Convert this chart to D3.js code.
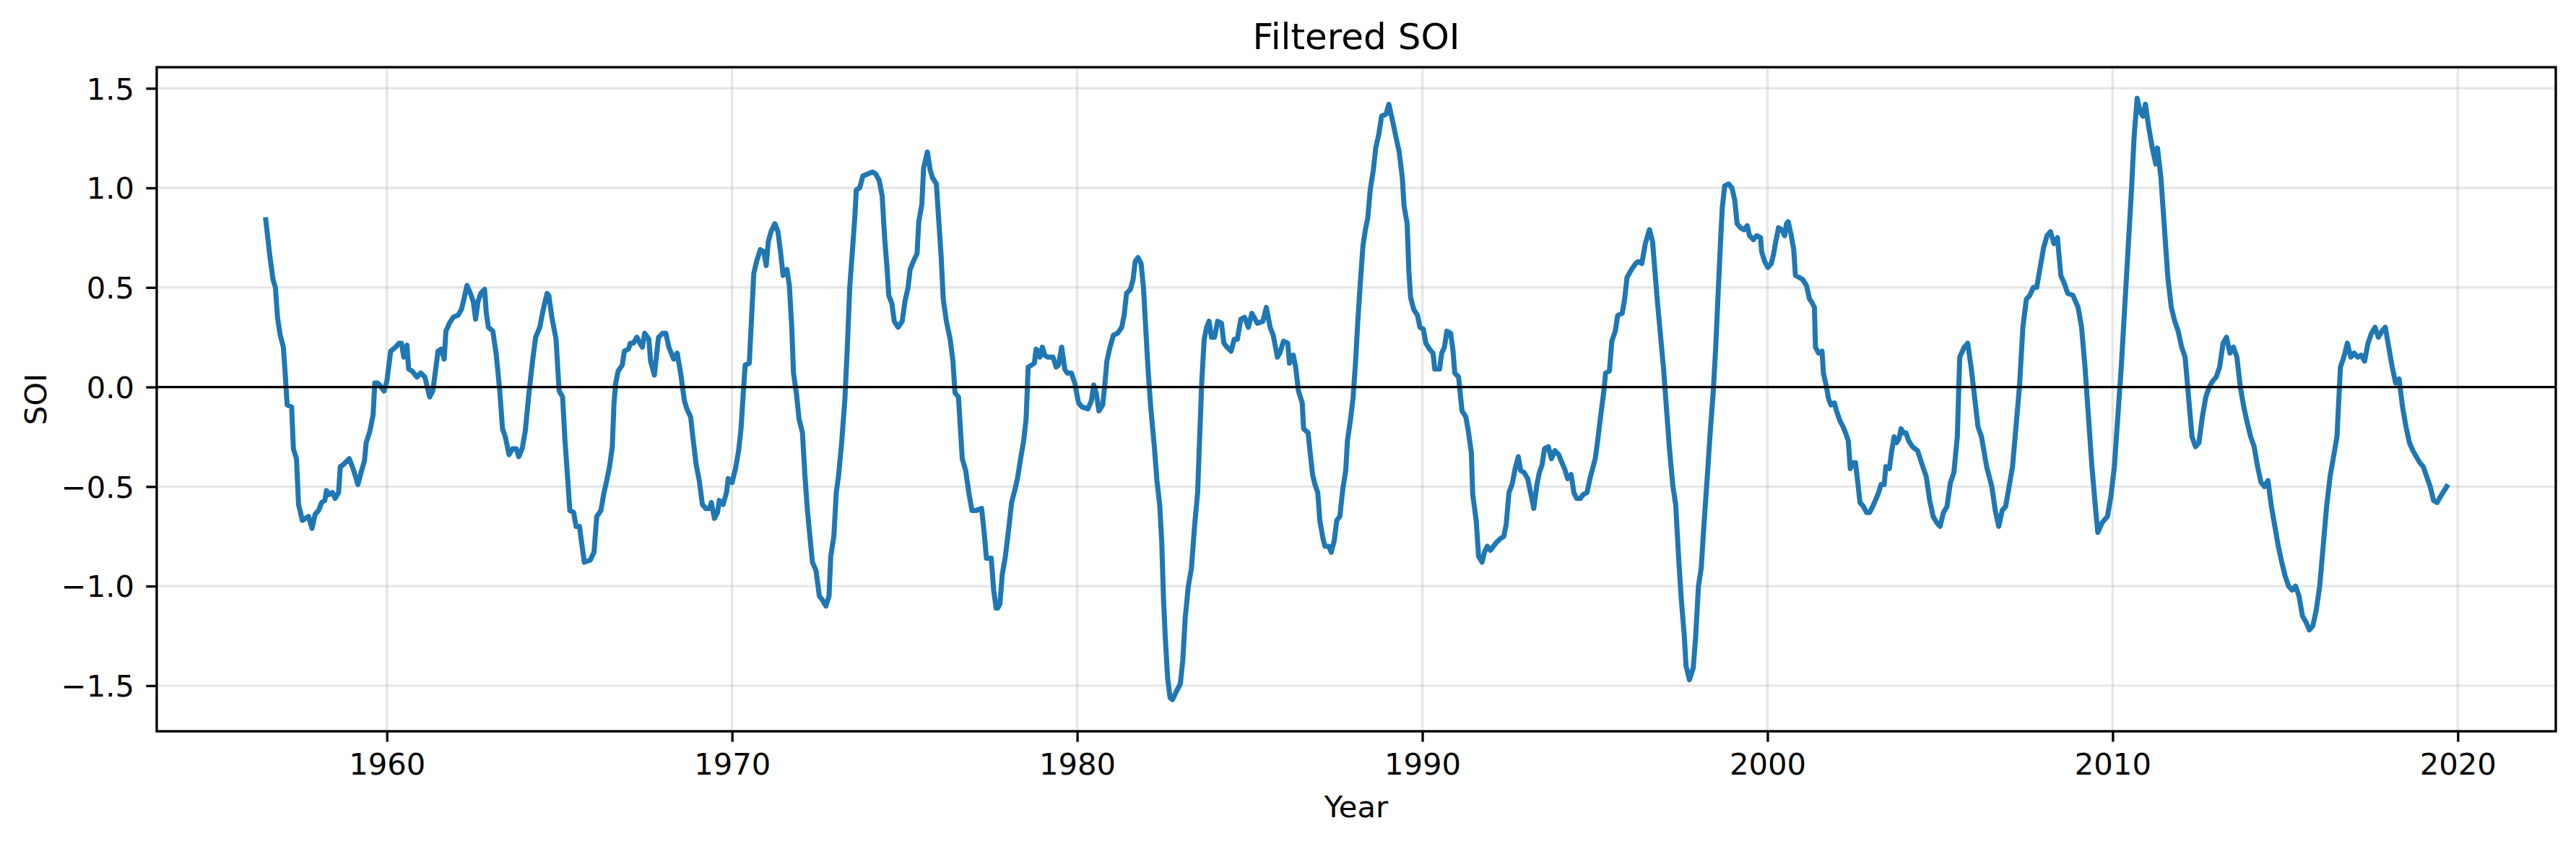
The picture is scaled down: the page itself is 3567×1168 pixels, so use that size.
<!DOCTYPE html>
<meta charset="utf-8">
<style>
  body { margin: 0; background: #fff; }
  text { font-family: "DejaVu Sans", sans-serif; }
</style>
<body>
<script src="https://d3js.org/d3.v7.min.js"></script>
<script>
// values (decimal year, filtered SOI)
var years = [
  1956.49,1956.60,1956.70,1956.77,1956.83,1956.91,1957.00,1957.06,1957.11,1957.24,1957.29,1957.38,1957.44,1957.55,1957.73,1957.83,1957.92,
  1958.02,1958.11,1958.20,1958.25,1958.32,1958.42,1958.50,1958.60,1958.65,1958.74,1958.85,1958.91,1959.02,1959.16,1959.25,1959.35,1959.40,
  1959.51,1959.60,1959.65,1959.72,1959.79,1959.92,1960.00,1960.11,1960.25,1960.35,1960.42,1960.49,1960.58,1960.63,1960.73,1960.87,1960.98,
  1961.10,1961.24,1961.33,1961.43,1961.48,1961.57,1961.66,1961.71,1961.81,1961.92,1962.06,1962.16,1962.23,1962.32,1962.42,1962.50,1962.57,
  1962.64,1962.72,1962.83,1962.88,1962.94,1963.07,1963.17,1963.27,1963.35,1963.43,1963.54,1963.64,1963.75,1963.82,1963.92,1964.01,1964.11,
  1964.22,1964.31,1964.43,1964.53,1964.64,1964.69,1964.78,1964.90,1964.99,1965.09,1965.16,1965.23,1965.30,1965.41,1965.48,1965.58,1965.64,
  1965.72,1965.89,1966.00,1966.08,1966.20,1966.28,1966.37,1966.46,1966.53,1966.58,1966.63,1966.70,1966.82,1966.88,1967.00,1967.05,1967.14,
  1967.24,1967.33,1967.40,1967.47,1967.59,1967.64,1967.75,1967.87,1967.99,1968.08,1968.17,1968.31,1968.41,1968.51,1968.62,1968.69,1968.80,
  1968.87,1968.96,1969.05,1969.14,1969.24,1969.35,1969.40,1969.49,1969.58,1969.63,1969.74,1969.84,1969.89,1970.00,1970.10,1970.19,1970.26,
  1970.33,1970.38,1970.50,1970.56,1970.63,1970.71,1970.82,1970.92,1970.99,1971.05,1971.13,1971.24,1971.33,1971.41,1971.48,1971.59,1971.66,
  1971.73,1971.78,1971.87,1971.94,1972.04,1972.11,1972.18,1972.25,1972.33,1972.43,1972.53,1972.62,1972.72,1972.81,1972.86,1972.95,1973.02,
  1973.09,1973.18,1973.27,1973.34,1973.41,1973.49,1973.56,1973.60,1973.70,1973.79,1973.93,1974.07,1974.16,1974.26,1974.35,1974.42,1974.49,
  1974.54,1974.63,1974.70,1974.81,1974.93,1975.01,1975.10,1975.16,1975.25,1975.36,1975.41,1975.50,1975.55,1975.66,1975.74,1975.81,1975.92,
  1975.98,1976.06,1976.12,1976.21,1976.32,1976.40,1976.46,1976.56,1976.67,1976.77,1976.86,1976.95,1977.07,1977.23,1977.31,1977.37,1977.51,
  1977.58,1977.65,1977.70,1977.76,1977.83,1977.92,1978.01,1978.10,1978.19,1978.27,1978.36,1978.45,1978.52,1978.58,1978.68,1978.76,1978.81,
  1978.87,1978.92,1978.99,1979.06,1979.15,1979.30,1979.39,1979.46,1979.55,1979.64,1979.71,1979.83,1979.93,1980.04,1980.14,1980.31,1980.41,
  1980.48,1980.55,1980.63,1980.74,1980.81,1980.86,1980.95,1981.05,1981.17,1981.29,1981.36,1981.43,1981.54,1981.62,1981.68,1981.76,1981.85,
  1981.92,1981.99,1982.06,1982.13,1982.24,1982.31,1982.39,1982.45,1982.50,1982.55,1982.62,1982.69,1982.76,1982.87,1982.99,1983.06,1983.13,
  1983.22,1983.31,1983.40,1983.49,1983.54,1983.61,1983.68,1983.75,1983.82,1983.89,1983.98,1984.07,1984.18,1984.25,1984.34,1984.46,1984.55,
  1984.64,1984.74,1984.85,1984.96,1985.06,1985.22,1985.38,1985.48,1985.59,1985.68,1985.80,1985.87,1985.98,1986.10,1986.15,1986.26,1986.33,
  1986.41,1986.52,1986.56,1986.69,1986.75,1986.82,1986.89,1986.97,1987.03,1987.12,1987.18,1987.29,1987.36,1987.45,1987.52,1987.61,1987.69,
  1987.78,1987.83,1987.92,1987.99,1988.06,1988.13,1988.21,1988.28,1988.35,1988.42,1988.49,1988.58,1988.65,1988.74,1988.82,1988.95,1989.03,
  1989.12,1989.23,1989.33,1989.42,1989.47,1989.56,1989.61,1989.66,1989.75,1989.86,1989.93,1990.03,1990.10,1990.21,1990.31,1990.36,1990.50,
  1990.56,1990.64,1990.71,1990.82,1990.89,1990.94,1991.05,1991.15,1991.26,1991.34,1991.42,1991.46,1991.56,1991.63,1991.73,1991.80,1991.88,
  1991.97,1992.06,1992.15,1992.27,1992.36,1992.43,1992.51,1992.60,1992.69,1992.78,1992.85,1992.95,1993.05,1993.16,1993.23,1993.32,1993.39,
  1993.47,1993.54,1993.65,1993.74,1993.84,1993.95,1994.02,1994.12,1994.21,1994.31,1994.39,1994.47,1994.58,1994.66,1994.77,1994.87,1995.01,
  1995.08,1995.17,1995.26,1995.31,1995.42,1995.49,1995.59,1995.66,1995.79,1995.86,1995.93,1996.06,1996.18,1996.25,1996.36,1996.46,1996.58,
  1996.67,1996.74,1996.81,1996.90,1996.99,1997.07,1997.16,1997.26,1997.34,1997.43,1997.50,1997.59,1997.64,1997.74,1997.85,1997.92,1998.00,
  1998.08,1998.16,1998.26,1998.34,1998.43,1998.50,1998.57,1998.64,1998.69,1998.76,1998.87,1998.97,1999.05,1999.12,1999.22,1999.32,1999.41,
  1999.48,1999.59,1999.69,1999.80,1999.83,1999.92,2000.01,2000.11,2000.18,2000.24,2000.32,2000.41,2000.50,2000.55,2000.60,2000.69,2000.76,
  2000.81,2000.92,2001.02,2001.13,2001.22,2001.27,2001.36,2001.39,2001.48,2001.58,2001.62,2001.71,2001.77,2001.84,2001.94,2002.00,2002.10,
  2002.19,2002.26,2002.34,2002.40,2002.48,2002.55,2002.61,2002.68,2002.78,2002.87,2002.96,2003.05,2003.15,2003.22,2003.29,2003.38,2003.43,
  2003.53,2003.60,2003.67,2003.74,2003.81,2003.87,2003.94,2004.01,2004.09,2004.20,2004.35,2004.50,2004.60,2004.70,2004.80,2004.90,2005.00,
  2005.10,2005.20,2005.30,2005.40,2005.50,2005.57,2005.70,2005.80,2005.90,2006.00,2006.10,2006.20,2006.35,2006.50,2006.60,2006.70,2006.80,
  2006.90,2007.00,2007.10,2007.20,2007.30,2007.40,2007.50,2007.60,2007.70,2007.80,2007.90,2008.00,2008.10,2008.20,2008.30,2008.40,2008.50,
  2008.60,2008.70,2008.85,2009.00,2009.10,2009.20,2009.30,2009.40,2009.50,2009.57,2009.70,2009.85,2009.95,2010.05,2010.15,2010.25,2010.35,
  2010.45,2010.55,2010.62,2010.71,2010.80,2010.88,2010.95,2011.05,2011.15,2011.25,2011.30,2011.40,2011.50,2011.60,2011.70,2011.80,2011.90,
  2012.00,2012.10,2012.20,2012.30,2012.40,2012.50,2012.60,2012.70,2012.80,2012.90,2013.00,2013.10,2013.20,2013.30,2013.40,2013.50,2013.60,
  2013.70,2013.80,2013.90,2014.00,2014.10,2014.20,2014.30,2014.40,2014.50,2014.60,2014.70,2014.80,2014.90,2015.00,2015.10,2015.20,2015.30,
  2015.40,2015.50,2015.60,2015.70,2015.80,2015.90,2016.00,2016.10,2016.20,2016.30,2016.40,2016.50,2016.60,2016.70,2016.80,2016.90,2017.00,
  2017.10,2017.20,2017.30,2017.40,2017.50,2017.60,2017.70,2017.80,2017.90,2018.00,2018.10,2018.20,2018.30,2018.40,2018.50,2018.60,2018.70,
  2018.80,2018.90,2019.00,2019.10,2019.20,2019.30,2019.40,2019.50,2019.68
];
var soi = [
  0.84,0.67,0.54,0.50,0.35,0.26,0.20,0.05,-0.09,-0.10,-0.31,-0.36,-0.59,-0.67,-0.65,-0.71,-0.64,
  -0.62,-0.58,-0.57,-0.52,-0.54,-0.53,-0.56,-0.53,-0.40,-0.39,-0.37,-0.36,-0.41,-0.49,-0.43,-0.37,-0.28,
  -0.22,-0.14,0.02,0.02,0.01,-0.02,0.03,0.18,0.20,0.22,0.22,0.15,0.21,0.09,0.08,0.05,0.07,
  0.05,-0.05,-0.02,0.11,0.18,0.19,0.14,0.28,0.32,0.35,0.36,0.39,0.44,0.51,0.47,0.43,0.34,
  0.43,0.47,0.49,0.37,0.30,0.28,0.16,-0.02,-0.21,-0.25,-0.34,-0.31,-0.31,-0.35,-0.31,-0.22,-0.04,
  0.13,0.25,0.30,0.39,0.47,0.46,0.35,0.24,-0.02,-0.05,-0.27,-0.44,-0.62,-0.63,-0.70,-0.70,-0.78,
  -0.88,-0.87,-0.83,-0.65,-0.62,-0.54,-0.47,-0.39,-0.30,-0.08,0.02,0.08,0.11,0.18,0.19,0.22,0.22,
  0.25,0.22,0.20,0.27,0.24,0.13,0.06,0.25,0.27,0.27,0.20,0.14,0.17,0.07,-0.07,-0.11,-0.15,
  -0.26,-0.39,-0.47,-0.59,-0.61,-0.61,-0.58,-0.66,-0.63,-0.57,-0.59,-0.53,-0.46,-0.48,-0.41,-0.32,-0.21,
  -0.02,0.11,0.12,0.33,0.57,0.63,0.69,0.68,0.61,0.73,0.78,0.82,0.78,0.67,0.56,0.59,0.51,
  0.30,0.07,-0.04,-0.16,-0.23,-0.44,-0.61,-0.74,-0.88,-0.92,-1.05,-1.07,-1.10,-1.05,-0.85,-0.75,-0.53,
  -0.44,-0.27,-0.06,0.20,0.50,0.69,0.86,0.99,1.00,1.06,1.07,1.08,1.07,1.04,0.96,0.75,0.60,
  0.46,0.42,0.33,0.30,0.33,0.43,0.50,0.59,0.63,0.67,0.83,0.92,1.10,1.18,1.09,1.05,1.02,
  0.86,0.65,0.44,0.33,0.24,0.13,-0.03,-0.05,-0.36,-0.42,-0.53,-0.62,-0.62,-0.61,-0.74,-0.86,-0.86,
  -1.02,-1.11,-1.11,-1.09,-0.94,-0.85,-0.72,-0.58,-0.52,-0.46,-0.36,-0.27,-0.16,0.10,0.11,0.12,0.19,
  0.18,0.15,0.20,0.16,0.15,0.15,0.10,0.11,0.20,0.09,0.07,0.07,0.02,-0.08,-0.10,-0.11,-0.07,
  0.01,-0.03,-0.12,-0.09,0.03,0.13,0.20,0.26,0.27,0.30,0.36,0.47,0.49,0.54,0.63,0.65,0.62,
  0.50,0.28,0.07,-0.10,-0.31,-0.47,-0.59,-0.78,-1.06,-1.25,-1.46,-1.56,-1.57,-1.53,-1.49,-1.37,-1.16,
  -1.00,-0.91,-0.70,-0.53,-0.29,0.03,0.24,0.30,0.33,0.25,0.25,0.33,0.32,0.22,0.20,0.18,0.24,
  0.24,0.34,0.35,0.30,0.37,0.32,0.33,0.40,0.30,0.26,0.15,0.17,0.23,0.22,0.12,0.16,0.10,
  -0.02,-0.08,-0.21,-0.23,-0.33,-0.44,-0.49,-0.53,-0.67,-0.76,-0.80,-0.80,-0.83,-0.77,-0.67,-0.65,-0.52,
  -0.42,-0.27,-0.16,-0.06,0.11,0.33,0.54,0.71,0.79,0.85,0.99,1.09,1.20,1.27,1.36,1.37,1.42,
  1.35,1.26,1.18,1.05,0.91,0.82,0.58,0.45,0.39,0.36,0.30,0.29,0.22,0.19,0.17,0.09,0.09,
  0.17,0.20,0.28,0.27,0.18,0.07,0.05,-0.12,-0.15,-0.23,-0.33,-0.54,-0.67,-0.85,-0.88,-0.83,-0.80,
  -0.82,-0.80,-0.78,-0.76,-0.75,-0.69,-0.53,-0.49,-0.41,-0.35,-0.42,-0.43,-0.46,-0.55,-0.61,-0.49,-0.43,
  -0.39,-0.31,-0.30,-0.36,-0.32,-0.34,-0.37,-0.41,-0.46,-0.44,-0.53,-0.56,-0.56,-0.54,-0.53,-0.45,-0.36,
  -0.27,-0.14,-0.02,0.07,0.08,0.23,0.28,0.36,0.37,0.44,0.55,0.59,0.62,0.63,0.62,0.72,0.79,
  0.73,0.58,0.43,0.26,0.09,-0.10,-0.31,-0.50,-0.59,-0.87,-1.06,-1.25,-1.40,-1.47,-1.41,-1.25,-1.00,
  -0.91,-0.69,-0.44,-0.23,-0.02,0.20,0.47,0.73,0.90,1.01,1.02,1.00,0.94,0.82,0.80,0.79,0.81,
  0.76,0.74,0.76,0.75,0.68,0.63,0.60,0.62,0.67,0.73,0.80,0.79,0.76,0.82,0.83,0.76,0.69,
  0.56,0.55,0.54,0.51,0.44,0.43,0.40,0.20,0.17,0.18,0.07,0.00,-0.06,-0.09,-0.08,-0.12,-0.17,
  -0.20,-0.23,-0.27,-0.41,-0.38,-0.38,-0.47,-0.58,-0.60,-0.63,-0.63,-0.60,-0.56,-0.53,-0.49,-0.49,-0.40,
  -0.41,-0.32,-0.25,-0.28,-0.26,-0.21,-0.23,-0.23,-0.27,-0.30,-0.32,-0.40,-0.45,-0.57,-0.65,-0.68,-0.70,
  -0.63,-0.60,-0.48,-0.43,-0.25,0.15,0.20,0.22,0.10,-0.05,-0.20,-0.25,-0.40,-0.50,-0.62,-0.70,-0.62,
  -0.60,-0.50,-0.40,-0.20,0.00,0.30,0.44,0.46,0.50,0.50,0.60,0.70,0.76,0.78,0.72,0.75,0.56,
  0.52,0.47,0.46,0.40,0.30,0.10,-0.15,-0.40,-0.60,-0.73,-0.68,-0.65,-0.55,-0.40,-0.15,0.10,0.40,
  0.70,1.00,1.25,1.45,1.38,1.36,1.42,1.30,1.20,1.12,1.20,1.05,0.80,0.55,0.40,0.33,0.28,
  0.20,0.15,-0.05,-0.25,-0.30,-0.28,-0.15,-0.05,0.00,0.03,0.05,0.10,0.22,0.25,0.17,0.20,0.15,
  0.00,-0.10,-0.18,-0.25,-0.30,-0.40,-0.48,-0.50,-0.47,-0.60,-0.70,-0.80,-0.88,-0.95,-1.00,-1.02,-1.00,
  -1.05,-1.15,-1.18,-1.22,-1.20,-1.12,-1.00,-0.80,-0.60,-0.45,-0.35,-0.25,0.10,0.15,0.22,0.15,0.17,
  0.15,0.16,0.13,0.22,0.27,0.30,0.25,0.28,0.30,0.20,0.10,0.02,0.04,-0.10,-0.20,-0.28,-0.32,
  -0.35,-0.38,-0.40,-0.45,-0.50,-0.57,-0.58,-0.55,-0.50
];
var xTicks = [1960, 1970, 1980, 1990, 2000, 2010, 2020];
var yTicks = [-1.5, -1.0, -0.5, 0.0, 0.5, 1.0, 1.5];
var yLimits = [-1.729, 1.606];

var data = years.map(function(d, i) { return [d, soi[i]]; });

var W = 3567, H = 1168;
var margin = { top: 93, right: 28, bottom: 156, left: 217 },
  width = W - margin.left - margin.right,
  height = H - margin.top - margin.bottom;

var svg = d3.select("body").append("svg")
  .attr("width", W)
  .attr("height", H);

var g = svg.append("g")
  .attr("transform", "translate(" + margin.left + "," + margin.top + ")");

// matplotlib-style 5% padding on x
var ext = d3.extent(years), pad = (ext[1] - ext[0]) * 0.05;
var x = d3.scaleLinear().domain([ext[0] - pad, ext[1] + pad]).range([0, width]);
var y = d3.scaleLinear().domain(yLimits).range([height, 0]);

// grid
g.append("g").selectAll("line").data(xTicks).enter().append("line")
  .attr("x1", function(d) { return x(d); }).attr("x2", function(d) { return x(d); })
  .attr("y1", 0).attr("y2", height);
g.append("g").selectAll("line").data(yTicks).enter().append("line")
  .attr("y1", function(d) { return y(d); }).attr("y2", function(d) { return y(d); })
  .attr("x1", 0).attr("x2", width);
g.selectAll("g line")
  .style("stroke", "#b0b0b0")
  .style("stroke-opacity", 0.3)
  .style("stroke-width", 3.33);

// the series
g.append("path")
  .datum(data)
  .attr("fill", "none")
  .attr("stroke", "#1f77b4")
  .attr("stroke-width", 7)
  .attr("stroke-linejoin", "round")
  .attr("stroke-linecap", "square")
  .attr("d", d3.line()
    .x(function(d) { return x(d[0]); })
    .y(function(d) { return y(d[1]); }));

// zero line
g.append("line")
  .attr("x1", 0).attr("x2", width)
  .attr("y1", y(0)).attr("y2", y(0))
  .style("stroke", "#000")
  .style("stroke-width", 3.33);

// axes
var xAxis = g.append("g")
  .attr("transform", "translate(0," + height + ")")
  .call(d3.axisBottom(x).tickValues(xTicks).tickSize(14.6).tickPadding(15.8)
    .tickFormat(d3.format("d")));
var yAxis = g.append("g")
  .call(d3.axisLeft(y).tickValues(yTicks).tickSize(14.6).tickPadding(16.4)
    .tickFormat(d3.format(".1f")));
yAxis.selectAll("text").attr("dy", "0.355em");

[xAxis, yAxis].forEach(function(a) {
  a.select(".domain").remove();
  a.selectAll("line").style("stroke", "#000").style("stroke-width", 3.33);
  a.selectAll("text")
    .style("font-family", "'DejaVu Sans', sans-serif")
    .style("font-size", "41.7px")
    .style("fill", "#000");
});

// frame
g.append("rect")
  .attr("width", width).attr("height", height)
  .attr("fill", "none")
  .attr("stroke", "#000")
  .attr("stroke-width", 3.33);

// labels
svg.append("text")
  .attr("x", margin.left + width / 2).attr("y", 68.3)
  .attr("text-anchor", "middle")
  .style("font-size", "50px")
  .text("Filtered SOI");

svg.append("text")
  .attr("x", margin.left + width / 2).attr("y", 1131)
  .attr("text-anchor", "middle")
  .style("font-size", "41.7px")
  .text("Year");

svg.append("text")
  .attr("transform", "translate(64," + (margin.top + height / 2) + ") rotate(-90)")
  .attr("text-anchor", "middle")
  .style("font-size", "41.7px")
  .text("SOI");
</script>
</body>
